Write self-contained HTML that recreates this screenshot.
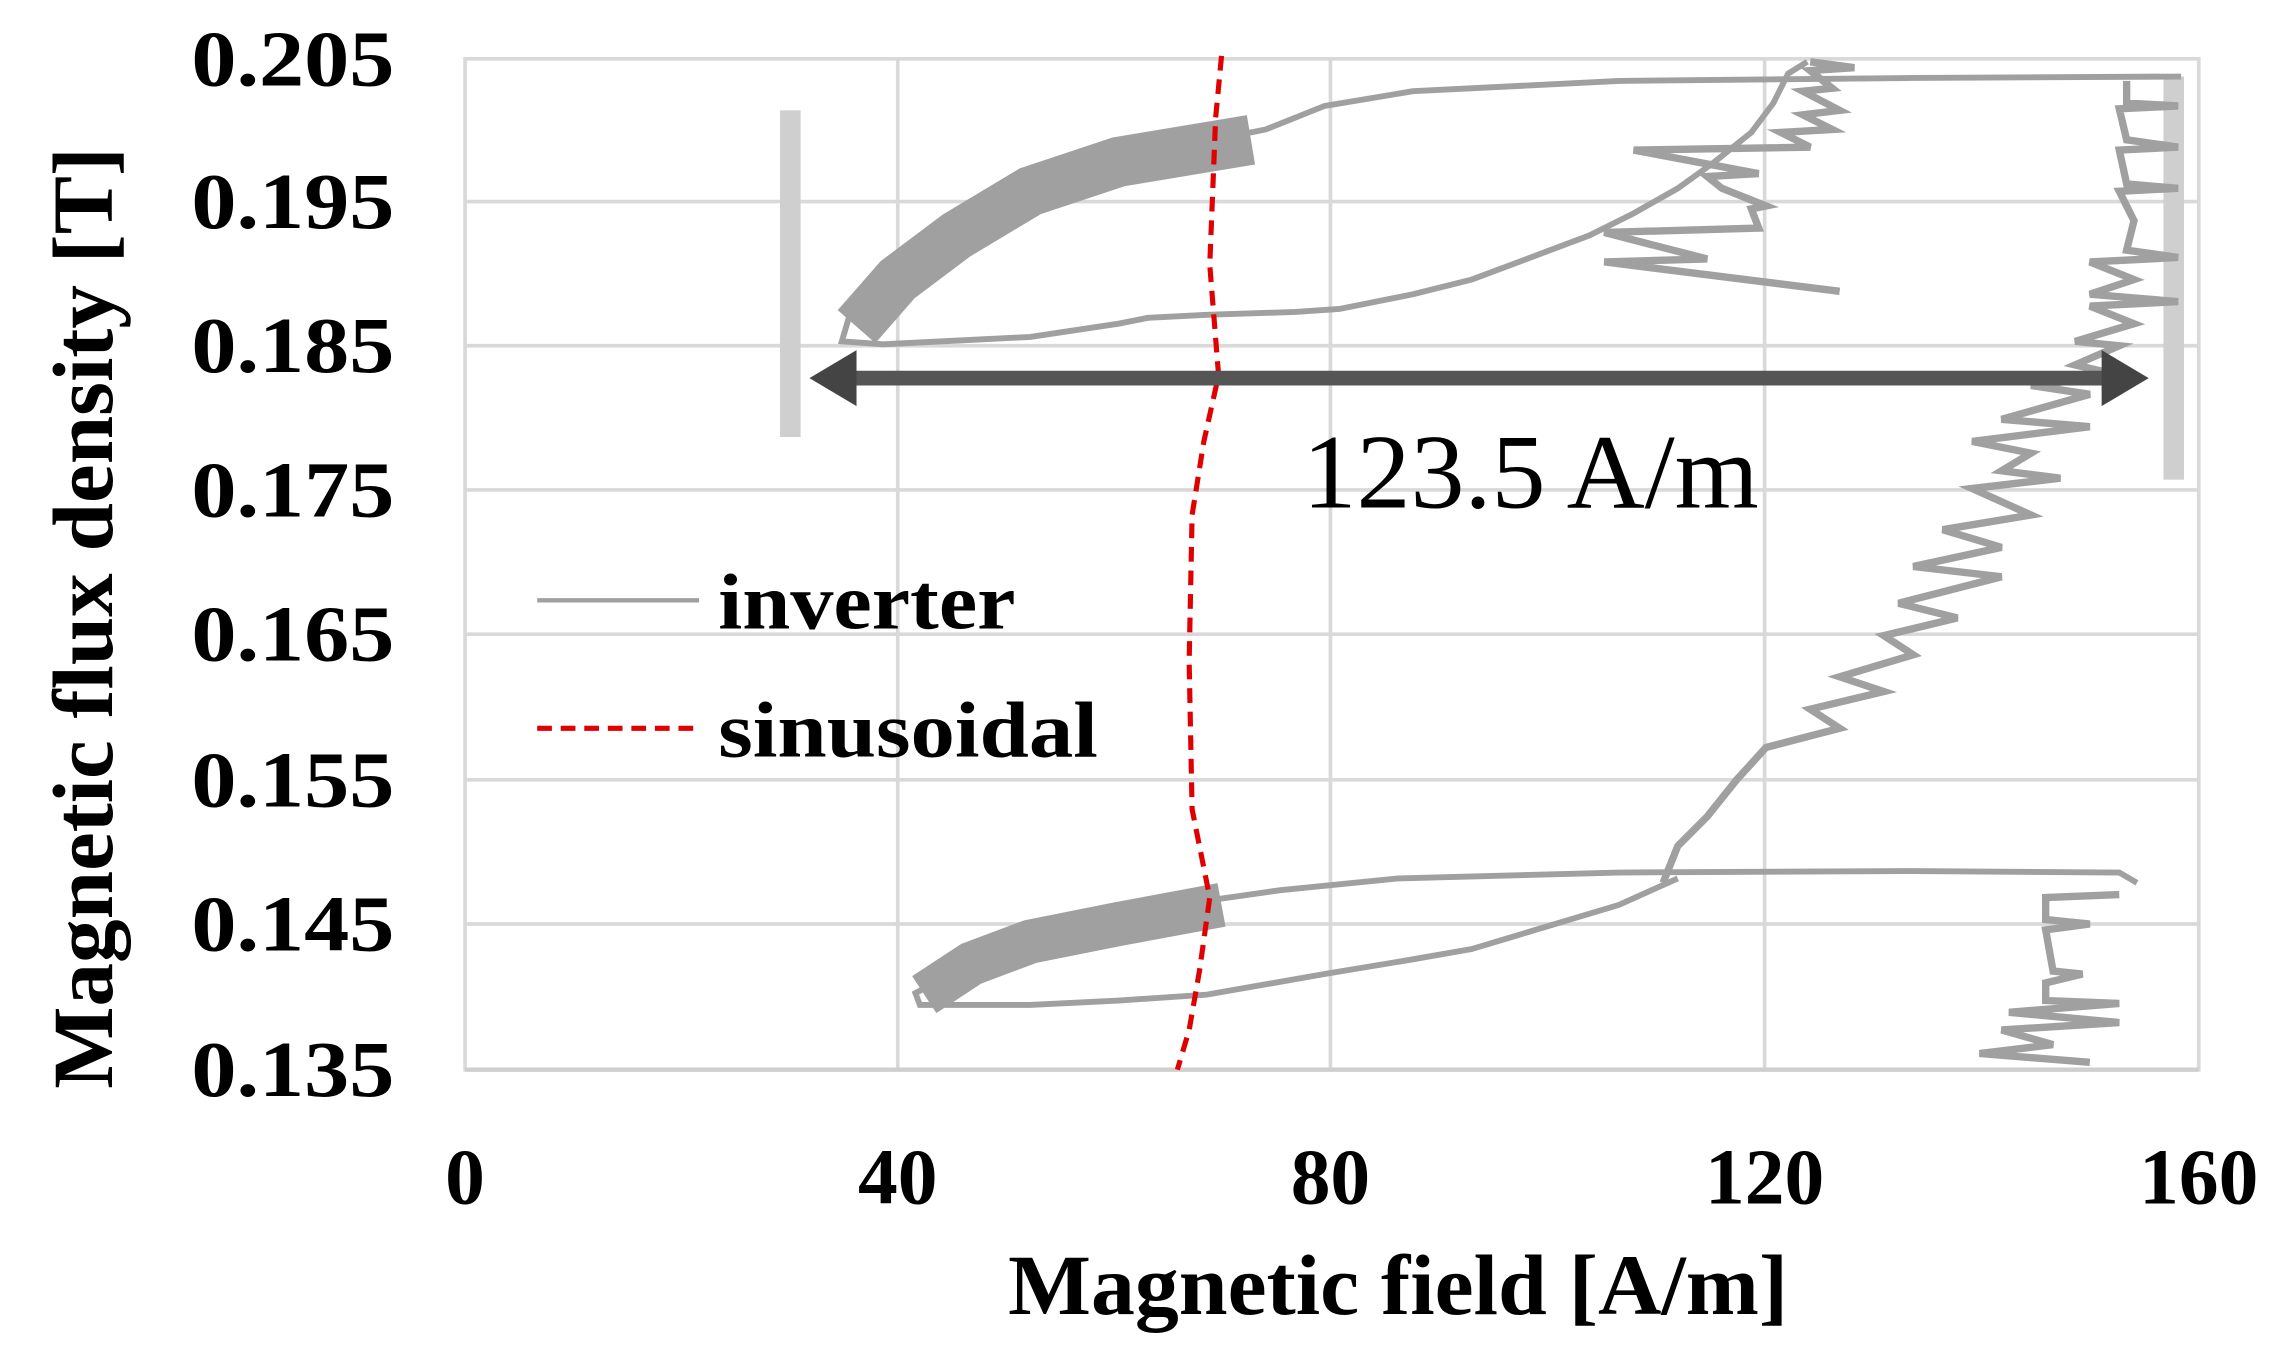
<!DOCTYPE html>
<html><head><meta charset="utf-8"><style>
html,body{margin:0;padding:0;background:#fff;}
svg{display:block;}
text{font-family:"Liberation Serif",serif;}
</style></head><body>
<svg width="2290" height="1361" viewBox="0 0 1556 925" preserveAspectRatio="none" xmlns="http://www.w3.org/2000/svg">
<rect width="1556" height="925" fill="#fff"/>
<g stroke="#d9d9d9" stroke-width="2.5" fill="none">
<rect x="316" y="40" width="1178" height="687"/>
<line x1="316" y1="137" x2="1494" y2="137"/>
<line x1="316" y1="235" x2="1494" y2="235"/>
<line x1="316" y1="333" x2="1494" y2="333"/>
<line x1="316" y1="431" x2="1494" y2="431"/>
<line x1="316" y1="530" x2="1494" y2="530"/>
<line x1="316" y1="628" x2="1494" y2="628"/>
<line x1="610" y1="40" x2="610" y2="727"/>
<line x1="904" y1="40" x2="904" y2="727"/>
<line x1="1199" y1="40" x2="1199" y2="727"/>
</g>
<line x1="316" y1="727" x2="1494" y2="727" stroke="#cfcfcf" stroke-width="3"/>
<rect x="530" y="75" width="14" height="222" fill="#cfcfcf"/>
<rect x="1470" y="52" width="14" height="274" fill="#cfcfcf"/>
<g stroke="#a0a0a0" fill="none" stroke-linejoin="miter">
<polyline stroke-width="4" points="1482,52 1300,53 1100,55 960,62 900,72 860,88 800,100 740,120 680,150 620,180 580,205 572,232 600,234 700,229 760,220 780,216 820,214 880,212 910,210 960,200 1000,190 1040,175 1080,160 1110,145 1140,128 1165,110 1190,90 1205,70 1215,50 1228,42"/>
<polyline stroke-width="34" points="582,222 610,190 650,160 700,130 760,110 850,95"/>
<polyline stroke-width="5" points="1230,42 1260,46 1230,48 1245,60 1225,62 1250,75 1225,78 1245,88 1210,90 1230,100 1110,102 1195,118 1160,120 1170,128 1200,140 1190,142 1195,155 1090,158 1160,176 1090,178 1250,198"/>
<polyline stroke-width="5" points="1445,55 1445,70 1480,72 1440,74 1445,95 1480,100 1440,102 1445,125 1480,128 1440,130 1450,150 1445,170 1480,175 1420,178 1450,190 1420,200 1480,205 1420,208 1450,220 1410,232 1440,235 1410,248 1440,255 1380,262 1420,268 1360,285 1420,290 1340,300 1380,308 1360,320 1400,325 1340,332 1380,350 1320,360 1360,372 1300,385 1360,392 1290,410 1330,420 1280,432 1300,445 1250,460 1280,470 1230,482 1250,495 1200,508 1180,530 1160,555 1140,575 1130,600"/>
<polyline stroke-width="4" points="1452,600 1440,593 1300,592 1100,593 950,597 870,605 800,615 750,625 700,640 650,660 622,675 625,683 700,683 760,680 820,676 900,662 960,652 1000,645 1050,630 1100,615 1140,597"/>
<polyline stroke-width="30" points="628,676 660,655 700,640 760,628 830,615"/>
<polyline stroke-width="5" points="1440,608 1390,610 1390,625 1420,628 1390,632 1395,660 1415,662 1390,668 1390,680 1440,682 1365,688 1440,695 1360,700 1395,710 1345,716 1420,722"/>
</g>
<polyline points="830,38 826,80 822,180 828,255 818,300 810,350 808,450 810,550 822,610 815,660 808,700 800,727" fill="none" stroke="#e00000" stroke-width="3.5" stroke-dasharray="10,6"/>
<line x1="570" y1="257" x2="1440" y2="257" stroke="#555" stroke-width="10"/>
<polygon points="550,257 582,238 582,276" fill="#444"/>
<polygon points="1460,257 1428,238 1428,276" fill="#444"/>
<text x="885" y="345" font-size="72" textLength="310" lengthAdjust="spacingAndGlyphs">123.5 A/m</text>
<line x1="365" y1="408" x2="475" y2="408" stroke="#a0a0a0" stroke-width="3"/>
<text x="488" y="427" font-size="54" font-weight="bold" textLength="202" lengthAdjust="spacingAndGlyphs">inverter</text>
<line x1="365" y1="495" x2="475" y2="495" stroke="#e00000" stroke-width="3.5" stroke-dasharray="10,6"/>
<text x="488" y="514" font-size="54" font-weight="bold" textLength="258" lengthAdjust="spacingAndGlyphs">sinusoidal</text>
<g font-size="54" font-weight="bold">
<text x="130" y="58" textLength="138" lengthAdjust="spacingAndGlyphs">0.205</text>
<text x="130" y="155" textLength="138" lengthAdjust="spacingAndGlyphs">0.195</text>
<text x="130" y="253" textLength="138" lengthAdjust="spacingAndGlyphs">0.185</text>
<text x="130" y="351" textLength="138" lengthAdjust="spacingAndGlyphs">0.175</text>
<text x="130" y="449" textLength="138" lengthAdjust="spacingAndGlyphs">0.165</text>
<text x="130" y="548" textLength="138" lengthAdjust="spacingAndGlyphs">0.155</text>
<text x="130" y="646" textLength="138" lengthAdjust="spacingAndGlyphs">0.145</text>
<text x="130" y="745" textLength="138" lengthAdjust="spacingAndGlyphs">0.135</text>
</g>
<g font-size="54" font-weight="bold" text-anchor="middle">
<text x="316" y="818">0</text>
<text x="610" y="818">40</text>
<text x="904" y="818">80</text>
<text x="1199" y="818">120</text>
<text x="1494" y="818">160</text>
</g>
<text x="685" y="893" font-size="58" font-weight="bold" textLength="530" lengthAdjust="spacingAndGlyphs">Magnetic field [A/m]</text>
<text transform="translate(76,740) rotate(-90)" font-size="58" font-weight="bold" textLength="640" lengthAdjust="spacingAndGlyphs">Magnetic flux density [T]</text>
</svg>
</body></html>
